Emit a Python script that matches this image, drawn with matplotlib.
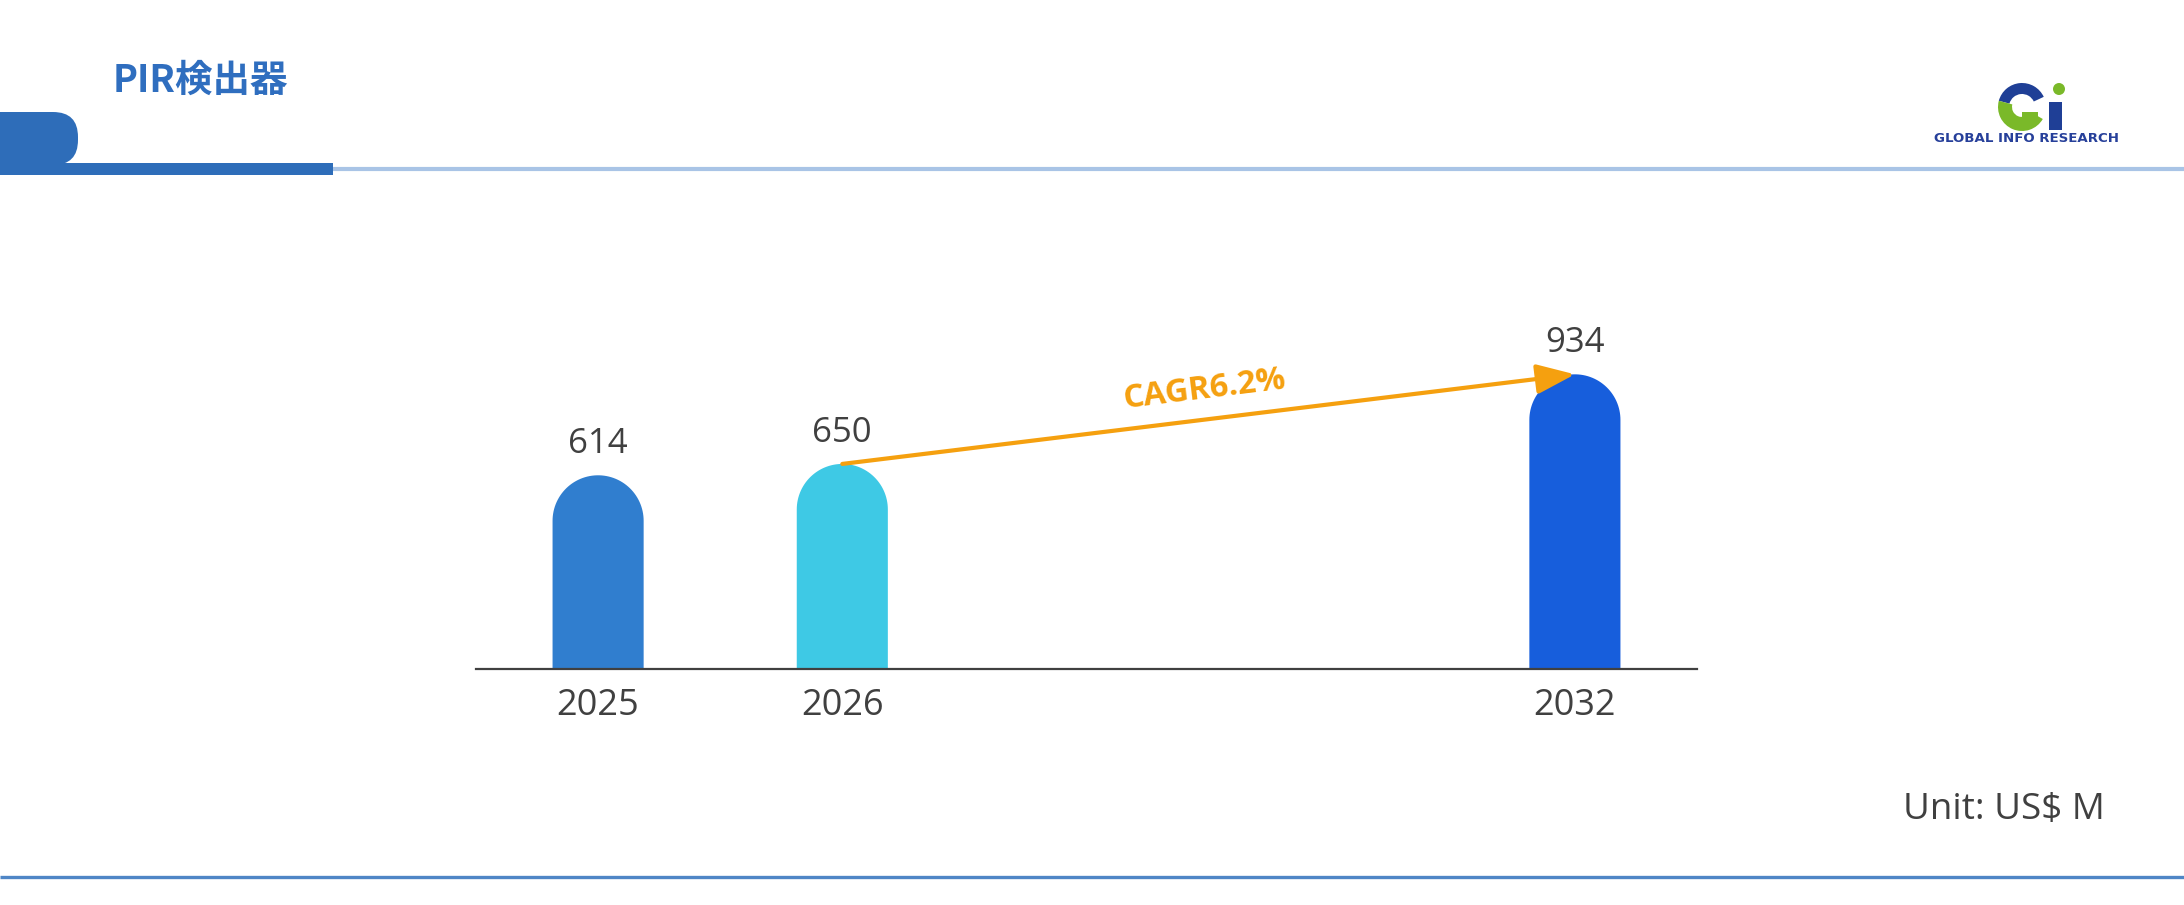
"""PIR検出器 market size bar chart with rounded bars and a CAGR arrow."""

import numpy as np
import matplotlib

matplotlib.use("Agg")
import matplotlib.pyplot as plt
from matplotlib.patches import PathPatch, Rectangle, FancyBboxPatch, Wedge, Circle
from matplotlib.path import Path

plt.rcParams["font.family"] = ["Open Sans", "Noto Sans CJK JP", "DejaVu Sans"]

# ---------------------------------------------------------------------------
# Data
# ---------------------------------------------------------------------------
YEARS = ["2025", "2026", "2032"]
SLOTS = [0, 1, 4]  # 2032 sits three slots after 2026
VALUES = [614, 650, 934]
BAR_COLORS = ["#307ECF", "#3EC9E5", "#175EDC"]
CAGR_LABEL = "CAGR6.2%"
TITLE = "PIR検出器"
UNIT = "Unit: US$ M"

W, H = 2184, 905
ORANGE = "#F5A00F"
TEXT_GRAY = "#404040"
HEADER_BLUE = "#2E6DB9"

fig = plt.figure(figsize=(W / 100, H / 100), dpi=100)

# ---------------------------------------------------------------------------
# Decorations in pixel space (overlay axes)
# ---------------------------------------------------------------------------
deco = fig.add_axes([0, 0, 1, 1])
deco.set_xlim(0, W)
deco.set_ylim(0, H)
deco.axis("off")


def py(y):
    """Convert top-down pixel y to bottom-up axes y."""
    return H - y


# header: thin light rule, thick dark segment, rounded tab
deco.plot([0, W], [py(169.5), py(169.5)], color="#A9C4E6", lw=3.0,
          solid_capstyle="butt", zorder=1)
deco.add_patch(Rectangle((0, py(175)), 333, 12, color=HEADER_BLUE, lw=0, zorder=3))
deco.add_patch(FancyBboxPatch((-60, py(165)), 138, 53,
                              boxstyle="round,pad=0,rounding_size=25",
                              color=HEADER_BLUE, lw=0, zorder=3))
deco.text(200, py(80), TITLE, color="#2F6EBF", fontsize=27, fontweight="bold",
          ha="center", va="center", family=["Noto Sans CJK JP", "DejaVu Sans"])

# bottom rule
deco.plot([0, W], [py(877), py(877)], color="#4F86C6", lw=2.4, solid_capstyle="butt")

# logo (rough)
cx, cy = 2022, py(107)
deco.add_patch(Wedge((cx, cy), 24, 25, 165, width=11, color="#1F3F96", lw=0))
deco.add_patch(Wedge((cx, cy), 24, 165, 330, width=14, color="#7AB929", lw=0))
deco.add_patch(Rectangle((2022, py(122)), 16, 10, color="#7AB929", lw=0))
deco.add_patch(Circle((2059, py(89)), 6, color="#7AB929", lw=0))
deco.add_patch(Rectangle((2049, py(130)), 13, 28, color="#1F3F96", lw=0))
deco.text(2027, py(139), "GLOBAL INFO RESEARCH", color="#27409A", fontsize=9.6,
          fontweight="bold", ha="center", va="center", family="DejaVu Sans")

deco.text(2105, py(810), UNIT, color=TEXT_GRAY, fontsize=26.5, ha="right", va="center")

# ---------------------------------------------------------------------------
# Chart axes
# ---------------------------------------------------------------------------
AX_LEFT, AX_RIGHT, AX_BASE, PX_PER_UNIT = 476, 1697, 669, 0.3155
Y_MAX = 1500
ax_h = Y_MAX * PX_PER_UNIT
ax = fig.add_axes([AX_LEFT / W, (H - AX_BASE) / H, (AX_RIGHT - AX_LEFT) / W, ax_h / H])
ax.set_xlim(-0.5, 4.5)
ax.set_ylim(0, Y_MAX)
ax.patch.set_alpha(0)
for side in ["top", "right", "left"]:
    ax.spines[side].set_visible(False)
ax.spines["bottom"].set_color(TEXT_GRAY)
ax.spines["bottom"].set_linewidth(1.6)
ax.set_yticks([])
ax.set_xticks(SLOTS)
ax.set_xticklabels(YEARS, fontsize=26, color=TEXT_GRAY)
ax.tick_params(axis="x", length=0, pad=14)

# rounded-top bars: semicircle radius matches half the bar width in pixels
bar_w = 0.373
px_per_x = (AX_RIGHT - AX_LEFT) / 5.0
rx = bar_w / 2
ry = rx * px_per_x / PX_PER_UNIT
theta = np.linspace(np.pi, 0, 60)
for x, v, c in zip(SLOTS, VALUES, BAR_COLORS):
    arc = np.column_stack([x + rx * np.cos(theta), v - ry + ry * np.sin(theta)])
    verts = np.vstack([[x - rx, 0], arc, [x + rx, 0], [x - rx, 0]])
    codes = [Path.MOVETO] + [Path.LINETO] * (len(verts) - 2) + [Path.CLOSEPOLY]
    ax.add_patch(PathPatch(Path(verts, codes), facecolor=c, edgecolor="none", zorder=2))
    ax.annotate(f"{v}", xy=(x, v), xytext=(0, 22.5), textcoords="offset points",
                ha="center", va="center", fontsize=25, color=TEXT_GRAY)

# CAGR arrow from 2026 top to 2032 top
x0, v0, x1, v1 = SLOTS[1], VALUES[1], SLOTS[2], VALUES[2]
ax.annotate("", xy=(x1, v1), xytext=(x0, v0),
            arrowprops=dict(arrowstyle="-|>,head_length=0.9,head_width=0.35",
                            color=ORANGE, lw=3, mutation_scale=26,
                            shrinkA=0, shrinkB=0), zorder=3)
angle = np.degrees(np.arctan2((v1 - v0) * PX_PER_UNIT, (x1 - x0) * px_per_x))
ax.annotate(CAGR_LABEL, xy=((x0 + x1) / 2, (v0 + v1) / 2), xytext=(-3, 21),
            textcoords="offset points", ha="center", va="center", rotation=angle,
            rotation_mode="anchor", fontsize=23.5, fontweight="bold", color=ORANGE)

fig.savefig("out.png", dpi=100)
